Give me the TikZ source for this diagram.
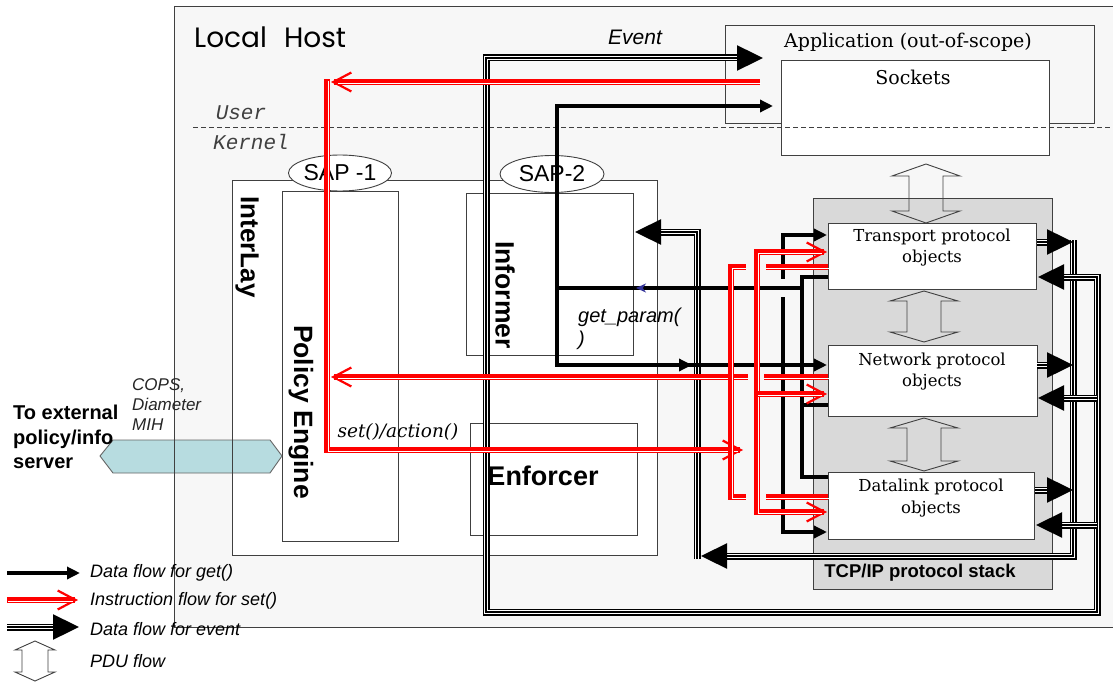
\documentclass[tikz,border=0pt]{standalone}
\usepackage{fontspec}
\newfontfamily\arial{Liberation Sans}
\newfontfamily\monofam{Liberation Mono}
\newfontfamily\gothic{Poppins}
\newfontfamily\century{DejaVu Serif}
\usetikzlibrary{arrows.meta,shapes.geometric,fit}
\definecolor{hostbg}{HTML}{F7F7F7}
\definecolor{stackbg}{HTML}{D9D9D9}
\definecolor{hexbg}{HTML}{B7DCE0}
\definecolor{edge}{HTML}{404040}
\definecolor{navy}{HTML}{333399}
\newcommand{\pduarr}[6]{%
  \draw[pdustyle] (#1,#2) -- (#1+#5,#2+#4) -- (#1+#6,#2+#4) -- (#1+#6,#3-#4) -- (#1+#5,#3-#4) -- (#1,#3)
   -- (#1-#5,#3-#4) -- (#1-#6,#3-#4) -- (#1-#6,#2+#4) -- (#1-#5,#2+#4) -- cycle;}
\begin{document}
\begin{tikzpicture}[x=1pt,y=-1pt,
  box/.style={draw=edge, line width=0.9pt, fill=white, inner sep=0pt, outer sep=0pt},
  sf/.style={font=\arial\fontsize{#1}{#1}\selectfont, inner sep=0pt},
  sfb/.style={font=\arial\bfseries\fontsize{#1}{#1}\selectfont, inner sep=0pt},
  sfi/.style={font=\arial\itshape\fontsize{#1}{#1}\selectfont, inner sep=0pt},
  rm/.style={font=\century\fontsize{#1}{#1}\selectfont, inner sep=0pt},
  kline/.style={draw=black, line width=3.5pt},
  karrow/.style={kline, -{Triangle[length=13pt,width=12pt]}},
  redline/.style={draw=red, line width=5.5pt,
     postaction={draw=white, line width=0.8pt, -, transform canvas={shift={(1.3pt,-1.3pt)}}}},
  redarrow/.style={draw=red, line width=5.5pt, -{Straight Barb[length=18pt,width=19pt,line width=2.2pt]},
     postaction={draw=white, line width=0.8pt, -, shorten >=6pt, transform canvas={shift={(1.3pt,-1.3pt)}}}},
  evarrow/.style={draw=black, line width=2.4pt, -{Triangle[length=26pt,width=25pt]},
     preaction={draw=black, double=white, line width=1.2pt, double distance=4.6pt, -, shorten >=20pt}},
  pdustyle/.style={draw=edge, line width=0.9pt, line join=miter},
  gap/.style={draw=hostbg, line width=#1},
]
\useasboundingbox (0,0) rectangle (1113,682);
\fill[white] (0,0) rectangle (1113,682);

% ---------- boxes ----------
\node[box, fill=hostbg, fit={(174,6)(1122,627)}] (host) {};
\node[font=\gothic\fontsize{28}{28}\selectfont, inner sep=0pt, anchor=west] (title) at (194,37) {Local\hspace{17pt}Host};
\node[font=\monofam\itshape\fontsize{21}{21}\selectfont, text=edge, inner sep=0pt] (user) at (241,113) {User};
\node[font=\monofam\itshape\fontsize{21}{21}\selectfont, text=edge, inner sep=0pt] (kernel) at (251,142) {Kernel};

\node[box, fill=none, fit={(725,25)(1094,123)}] (app) {};
\node[rm=19] (applbl) at (908,42) {Application (out-of-scope)};
\node[box, fit={(781,60)(1049,155)}] (sockets) {};
\node[rm=19] (socklbl) at (913,77) {Sockets};
\coordinate (ukL) at (193,127);
\coordinate (ukR) at (1113,127);
\draw[edge, line width=0.9pt, dash pattern=on 5pt off 3pt] (ukL) -- (ukR);

\node[box, fit={(232,180)(657,555)}] (interlay) {};
\node[sfb=26, rotate=-90] (illbl) at (247,247) {InterLay};
\node[box, fit={(282,191)(398,541)}] (policy) {};
\node[sfb=26.5, rotate=-90] (pelbl) at (301,412) {Policy Engine};
\node[box, fit={(466,193)(633,355)}] (informer) {};
\node[sfb=26.5, rotate=-90] (inflbl) at (505,295) {Informer};
\node[box, fit={(470,423)(637,535)}] (enforcer) {};
\node[sfb=27] (enflbl) at (543,476) {Enforcer};
\node[ellipse, draw=edge, line width=0.9pt, fill=white, minimum width=102pt, minimum height=36pt, inner sep=0pt, sf=23] (sap1) at (340,173) {SAP -1};
\node[ellipse, draw=edge, line width=0.9pt, fill=white, minimum width=104pt, minimum height=37pt, inner sep=0pt, sf=23] (sap2) at (552,174) {SAP-2};

\node[box, fill=stackbg, fit={(813,198)(1052,589)}] (stack) {};
\node[sfb=18.5] (stacklbl) at (920,573) {TCP/IP protocol stack};
\node[box, fit={(828,223)(1036,289)}] (transport) {};
\node[font=\century\fontsize{16.5}{21}\selectfont, align=center, inner sep=0pt] (trlbl) at (932,248) {Transport protocol\\objects};
\node[box, fit={(828,345)(1037,416)}] (network) {};
\node[font=\century\fontsize{16.5}{21}\selectfont, align=center, inner sep=0pt] (netlbl) at (932,372) {Network protocol\\objects};
\node[box, fit={(828,472)(1034,539)}] (datalink) {};
\node[font=\century\fontsize{16.5}{22}\selectfont, align=center, inner sep=0pt] (dllbl) at (931,498) {Datalink protocol\\objects};

% PDU arrows
\pduarr{926}{164}{223}{12}{34}{17}
\pduarr{924}{291}{342}{10}{34}{17}
\pduarr{924}{418}{471}{10}{34}{17}

% external hexagon
\coordinate (hx1) at (100,456); \coordinate (hx2) at (113,440); \coordinate (hx3) at (270,440);
\coordinate (hx4) at (282,456); \coordinate (hx5) at (270,473); \coordinate (hx6) at (113,473);
\draw[fill=hexbg, draw=edge!80, line width=0.9pt] (hx1) -- (hx2) -- (hx3) -- (hx4) -- (hx5) -- (hx6) -- cycle;
\draw[edge, line width=0.9pt] (host.north west) -- (host.south west);
\draw[edge, line width=0.9pt] (interlay.north west) -- (interlay.south west);
\node[font=\arial\bfseries\fontsize{20}{24.5}\selectfont, align=left, inner sep=0pt, anchor=west] (extlbl) at (13,437) {To external\\policy/info\\server};
\node[font=\arial\itshape\fontsize{17}{20}\selectfont, align=left, inner sep=0pt, anchor=west, text=black!85] (copslbl) at (132,405) {COPS,\\Diameter\\MIH};

% labels
\node[sfi=21] (eventlbl) at (635,37) {Event};
\node[font=\arial\itshape\fontsize{20}{23}\selectfont, align=left, inner sep=0pt, anchor=west] (gplbl) at (578,329) {get\_param(\\)};
\node[font=\century\itshape\fontsize{18.5}{18.5}\selectfont, inner sep=0pt] (setlbl) at (398,432) {set()/action()};

% ---------- event flows ----------
\coordinate (e1a) at (1037,242); \coordinate (e1at) at (1073,242);
\coordinate (e1b) at (1037,365); \coordinate (e1bt) at (1073,365);
\coordinate (e1c) at (1035,490); \coordinate (e1ct) at (1073,490);
\coordinate (e1top) at (1073,240); \coordinate (e1bot) at (1073,556); \coordinate (e1end) at (701,556);
\coordinate (e1v) at (697,559); \coordinate (e1vt) at (697,232); \coordinate (e1inf) at (635,232);
\draw[evarrow] (e1top) -- (e1bot) -- (e1end);
\draw[evarrow] (e1v) -- (e1vt) -- (e1inf);
\draw[evarrow] (e1a) -- (e1at);
\draw[evarrow] (e1b) -- (e1bt);
\draw[evarrow] (e1c) -- (e1ct);

\coordinate (e2m) at (1097,398); \coordinate (e2T) at (1038,277); \coordinate (e2N) at (1038,398);
\coordinate (e2d) at (1097,525); \coordinate (e2D) at (1036,525);
\coordinate (e2b) at (1097,612); \coordinate (e2bl) at (486,612); \coordinate (e2tl) at (486,58); \coordinate (e2app) at (763,58);
\draw[evarrow] (e2m) -- (e2b) -- (e2bl) -- (e2tl) -- (e2app);
\draw[evarrow] (e2m) |- (e2T);
\draw[evarrow] (e2m) -- (e2N);
\draw[evarrow] (e2d) -- (e2D);

% ---------- get flows (black) ----------
\coordinate (k1a) at (828,277); \coordinate (k1c) at (802,477); \coordinate (k1d) at (828,477);
\coordinate (k1n) at (828,405); \coordinate (k1nb) at (802,405);
\draw[kline] (k1a) -| (k1c) -- (k1d);
\draw[kline] (k1n) -- (k1nb);
\coordinate (k5m) at (783,365); \coordinate (k5t) at (827,235); \coordinate (k5b) at (827,532);
\draw[karrow] (k5m) |- (k5t);
\draw[karrow] (k5m) |- (k5b);
\coordinate (g1a) at (783,279); \coordinate (g1b) at (783,297);
\draw[gap=5pt] (g1a) -- (g1b);
\coordinate (k2s) at (802,288); \coordinate (k2m) at (636,288); \coordinate (k2e) at (555.25,288);
\draw[kline] (k2s) -- (k2e);
\draw[kline, -{Stealth[length=10pt,width=9pt,color=navy]}] (k2s) -- (k2m);
\coordinate (k3s) at (557,366.75); \coordinate (k3t) at (557,106); \coordinate (k3e) at (773,106);
\draw[karrow] (k3s) -- (k3t) -- (k3e);
\coordinate (k4s) at (555.25,365); \coordinate (k4m) at (692,365); \coordinate (k4m2) at (680,365); \coordinate (k4e) at (827,365);
\draw[karrow] (k4m2) -- (k4e);
\draw[karrow] (k4s) -- (k4m);

% ---------- set flows (red) ----------
\coordinate (rSock) at (760,82); \coordinate (rTopEnd) at (331,82);
\coordinate (rTop) at (327,79.5); \coordinate (rSet) at (327,450); \coordinate (rSetEnd) at (743,450);
\coordinate (rNet) at (828,377); \coordinate (rNetEnd) at (331,377);
\draw[redarrow] (rTop) -- (rSet) -- (rSetEnd);
\draw[redarrow] (rSock) -- (rTopEnd);
\draw[redarrow] (rNet) -- (rNetEnd);
\coordinate (aT) at (828,267); \coordinate (aTb) at (731,267); \coordinate (aBb) at (731,497); \coordinate (aB) at (828,497);
\draw[redline] (aT) -- (aTb) -- (aBb) -- (aB);
% bridge gaps where the second red bus crosses
\coordinate (g2a) at (746,267); \coordinate (g2b) at (766,267);
\coordinate (g3a) at (748,377); \coordinate (g3b) at (764,377);
\coordinate (g4a) at (746,497); \coordinate (g4b) at (766,497);
\draw[gap=8pt] (g2a) -- (g2b);
\draw[gap=8pt] (g3a) -- (g3b);
\draw[gap=8pt] (g4a) -- (g4b);
\coordinate (bM) at (757,394); \coordinate (bTe) at (827,252); \coordinate (bMe) at (827,394); \coordinate (bBe) at (827,512);
\draw[redarrow] (bM) |- (bTe);
\draw[redarrow] (bM) |- (bBe);
\draw[redarrow] (bM) -- (bMe);

% ---------- legend ----------
\coordinate (lg1s) at (7,573); \coordinate (lg1e) at (80,573);
\coordinate (lg2s) at (7,600); \coordinate (lg2e) at (78,600);
\coordinate (lg3s) at (7,627); \coordinate (lg3e) at (79,627);
\draw[karrow] (lg1s) -- (lg1e);
\draw[redarrow] (lg2s) -- (lg2e);
\draw[evarrow] (lg3s) -- (lg3e);
\pduarr{35}{641}{681}{9}{20}{13}
\node[sfi=18, anchor=west] (lgt1) at (90,573) {Data flow for get()};
\node[sfi=18, anchor=west] (lgt2) at (90,601) {Instruction flow for set()};
\node[sfi=18, anchor=west] (lgt3) at (90,629) {Data flow for event};
\node[sfi=18, anchor=west] (lgt4) at (90,661) {PDU flow};
\end{tikzpicture}
\end{document}
